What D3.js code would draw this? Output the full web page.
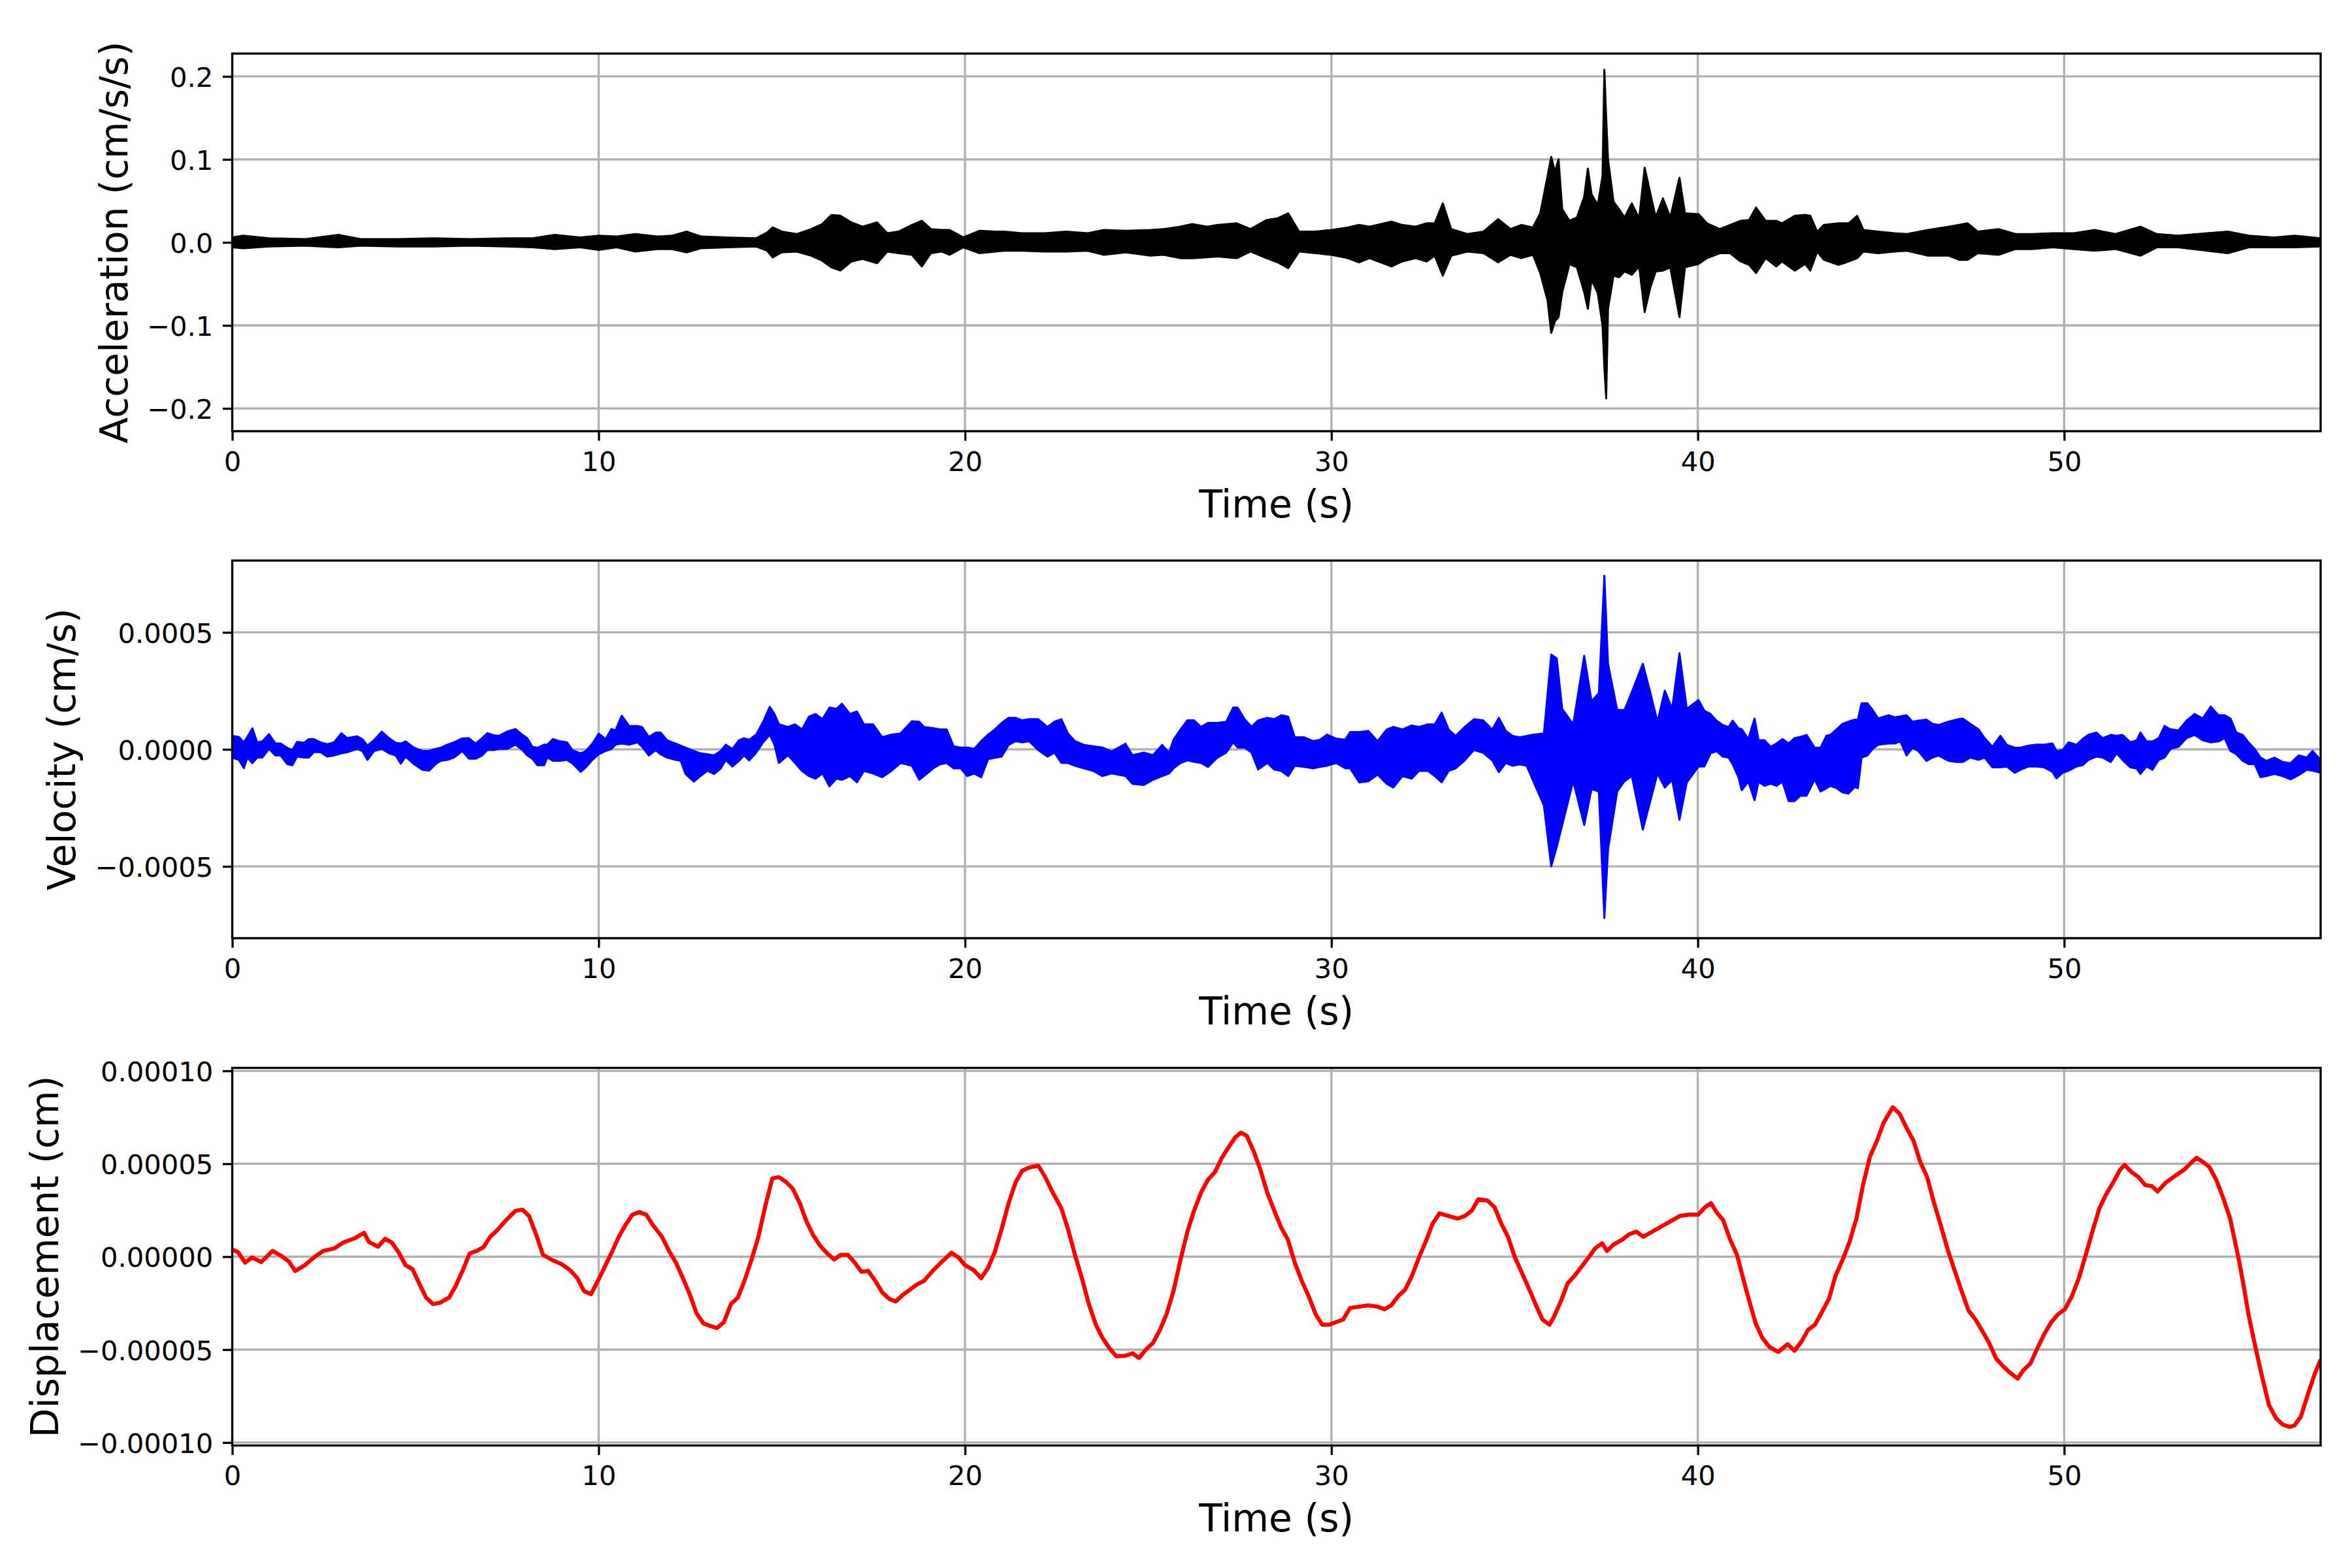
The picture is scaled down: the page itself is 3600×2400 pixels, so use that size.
<!DOCTYPE html>
<html lang="en">
    <head>
        <meta charset="utf-8">
        <title>Acceleration, Velocity, Displacement</title>
        <script src="https://d3js.org/d3.v7.min.js"></script>
        <style type="text/css">
            body { margin: 0; background: #ffffff; }
            svg { display: block; background: #ffffff; }
            text { font-family: "DejaVu Sans", sans-serif; fill: #000000; }
        </style>
    </head>
    <body>
        <svg width="3600" height="2400"></svg>
        <script type="text/javascript">

            // ---- tick values / labels ----
            const xTicks = [0, 10, 20, 30, 40, 50];
            const xTickLabels = ["0", "10", "20", "30", "40", "50"];

            const accTicks = [0.2, 0.1, 0, -0.1, -0.2];
            const accTickLabels = ["0.2", "0.1", "0.0", "\u22120.1", "\u22120.2"];

            const velTicks = [0.0005, 0, -0.0005];
            const velTickLabels = ["0.0005", "0.0000", "\u22120.0005"];

            const dispTicks = [0.0001, 0.00005, 0, -0.00005, -0.0001];
            const dispTickLabels = ["0.00010", "0.00005", "0.00000", "\u22120.00005", "\u22120.00010"];

            // ---- acceleration (cm/s/s): upper / lower envelope of the trace ----
            const accTime = [
                0, 0.3, 1, 2, 2.9, 3.5, 4.5, 5.5, 6.5, 7.5,
                8.2, 8.8, 9.5, 10, 10.5, 11, 11.6, 12, 12.4, 12.8,
                13.5, 14.3, 14.6, 14.75, 15, 15.4, 15.8, 16.1, 16.35, 16.6,
                16.9, 17.2, 17.6, 17.88, 18.18, 18.55, 18.82, 19.07, 19.36, 19.58,
                19.95, 20.4, 20.84, 21.06, 21.57, 22.17, 22.76, 23.35, 23.79, 24.39,
                25.06, 25.42, 25.87, 26.2, 26.61, 26.9, 27.42, 27.79, 28.23, 28.53,
                28.82, 29.12, 29.57, 30, 30.45, 30.75, 31.04, 31.64, 31.93, 32.3,
                32.6, 32.82, 33.04, 33.27, 33.71, 34.15, 34.55, 34.89, 35.18, 35.5,
                35.7, 35.9, 36, 36.1, 36.2, 36.3, 36.5, 36.7, 36.9, 37,
                37.1, 37.27, 37.4, 37.45, 37.5, 37.55, 37.7, 37.85, 38, 38.2,
                38.4, 38.55, 38.7, 38.85, 39.05, 39.25, 39.5, 39.65, 40.02, 40.25,
                40.6, 40.88, 41.17, 41.4, 41.59, 41.85, 42.14, 42.3, 42.65, 42.93,
                43.07, 43.26, 43.44, 43.84, 44.12, 44.35, 44.52, 44.92, 45.37, 45.71,
                46.28, 46.85, 47.13, 47.36, 47.64, 48.21, 48.67, 49.12, 49.69, 50.26,
                50.83, 51.4, 52.08, 52.53, 53.1, 53.9, 54.47, 55.04, 55.72, 56.29,
                57
            ];
            const accUpper = [
                .006, .008, .005, .004, .009, .004, .004, .005, .004, .005,
                .005, .009, .006, .008, .007, .010, .007, .008, .013, .007,
                .006, .005, .012, .018, .013, .010, .016, .022, .033, .032,
                .024, .019, .024, .011, .013, .021, .026, .016, .015, .015,
                .006, .014, .013, .013, .011, .011, .013, .011, .015, .014,
                .015, .016, .019, .022, .019, .021, .023, .016, .027, .029,
                .035, .013, .013, .015, .018, .021, .019, .025, .021, .019,
                .023, .023, .047, .016, .010, .013, .028, .016, .021, .018,
                .035, .080, .103, .085, .100, .040, .026, .030, .055, .089,
                .058, .045, .080, .208, .150, .100, .049, .040, .030, .047,
                .029, .090, .060, .030, .053, .030, .078, .035, .034, .023,
                .016, .021, .026, .027, .042, .026, .026, .023, .032, .033,
                .032, .013, .021, .023, .023, .032, .015, .013, .011, .010,
                .015, .019, .021, .023, .013, .016, .010, .010, .011, .011,
                .015, .010, .019, .010, .008, .011, .013, .008, .006, .008,
                .005
            ];
            const accLower = [
                -.006, -.007, -.005, -.004, -.006, -.004, -.005, -.005, -.004, -.005,
                -.006, -.008, -.006, -.009, -.006, -.011, -.008, -.008, -.012, -.007,
                -.006, -.005, -.010, -.018, -.012, -.011, -.016, -.022, -.030, -.034,
                -.023, -.020, -.025, -.011, -.013, -.015, -.029, -.013, -.011, -.015,
                -.006, -.013, -.011, -.010, -.010, -.011, -.011, -.010, -.015, -.012,
                -.016, -.015, -.019, -.019, -.018, -.017, -.019, -.011, -.019, -.024,
                -.031, -.011, -.013, -.015, -.019, -.024, -.019, -.029, -.023, -.019,
                -.023, -.016, -.040, -.016, -.011, -.013, -.024, -.015, -.019, -.015,
                -.037, -.070, -.109, -.095, -.090, -.060, -.026, -.030, -.060, -.080,
                -.045, -.061, -.100, -.150, -.188, -.080, -.040, -.042, -.035, -.039,
                -.029, -.084, -.055, -.035, -.034, -.030, -.090, -.030, -.026, -.019,
                -.013, -.013, -.023, -.027, -.037, -.019, -.029, -.023, -.034, -.026,
                -.034, -.011, -.021, -.027, -.023, -.019, -.011, -.013, -.011, -.010,
                -.016, -.016, -.021, -.021, -.013, -.015, -.008, -.008, -.006, -.008,
                -.010, -.008, -.016, -.006, -.006, -.010, -.013, -.006, -.006, -.006,
                -.005
            ];

            // ---- velocity (units of 1e-4 cm/s): upper / lower envelope ----
            const velUnit = 1e-4;
            const velTime = [
                0, 0.18, 0.32, 0.41, 0.55, 0.68, 0.82, 1.0, 1.18, 1.32,
                1.5, 1.64, 1.77, 1.96, 2.09, 2.23, 2.41, 2.59, 2.78, 2.98,
                3.14, 3.41, 3.55, 3.69, 3.87, 4.08, 4.28, 4.46, 4.6, 4.73,
                4.96, 5.19, 5.37, 5.55, 5.69, 5.87, 6.05, 6.28, 6.46, 6.64,
                6.82, 6.96, 7.14, 7.28, 7.5, 7.73, 7.92, 8.05, 8.19, 8.33,
                8.51, 8.6, 8.75, 8.96, 9.14, 9.28, 9.51, 9.65, 9.83, 10.0,
                10.19, 10.35, 10.46, 10.63, 10.83, 11.06, 11.19, 11.37, 11.56, 11.69,
                11.87, 12.1, 12.24, 12.37, 12.6, 12.78, 12.97, 13.15, 13.33, 13.47,
                13.65, 13.83, 13.97, 14.11, 14.3, 14.49, 14.67, 14.8, 14.92, 15.17,
                15.36, 15.55, 15.74, 15.92, 16.11, 16.3, 16.49, 16.64, 16.86, 17.05,
                17.24, 17.49, 17.74, 17.99, 18.24, 18.55, 18.75, 18.88, 19.13, 19.31,
                19.5, 19.69, 19.88, 20.06, 20.25, 20.44, 20.63, 20.81, 21.0, 21.19,
                21.38, 21.56, 21.75, 22.0, 22.25, 22.44, 22.63, 22.81, 23.0, 23.25,
                23.5, 23.75, 24.0, 24.38, 24.57, 24.88, 25.13, 25.38, 25.57, 25.69,
                25.88, 26.07, 26.25, 26.44, 26.63, 26.88, 27.13, 27.32, 27.44, 27.63,
                27.82, 28.0, 28.25, 28.44, 28.63, 28.82, 29.0, 29.25, 29.5, 29.69,
                29.88, 30.13, 30.38, 30.51, 30.76, 31.01, 31.26, 31.51, 31.69, 31.94,
                32.19, 32.39, 32.64, 32.82, 33.01, 33.2, 33.39, 33.64, 33.89, 34.14,
                34.39, 34.57, 34.76, 34.95, 35.14, 35.33, 35.51, 35.8, 36.0, 36.15,
                36.3, 36.6, 36.9, 37.1, 37.3, 37.45, 37.55, 37.8, 38.0, 38.2,
                38.5, 38.7, 38.9, 39.1, 39.3, 39.5, 39.7, 40.02, 40.18, 40.35,
                40.51, 40.68, 40.84, 40.95, 41.11, 41.2, 41.38, 41.55, 41.66, 41.82,
                41.99, 42.15, 42.31, 42.48, 42.64, 42.8, 42.97, 43.19, 43.35, 43.51,
                43.62, 43.79, 43.95, 44.11, 44.28, 44.37, 44.47, 44.63, 44.77, 44.93,
                45.21, 45.37, 45.53, 45.7, 45.86, 46.02, 46.24, 46.41, 46.57, 46.84,
                47.06, 47.23, 47.44, 47.66, 47.83, 48.04, 48.26, 48.43, 48.65, 48.81,
                49.03, 49.25, 49.46, 49.68, 49.79, 49.96, 50.12, 50.34, 50.5, 50.66,
                50.88, 51.05, 51.27, 51.43, 51.59, 51.81, 51.98, 52.08, 52.25, 52.41,
                52.58, 52.74, 52.9, 53.12, 53.34, 53.56, 53.78, 54.0, 54.21, 54.38,
                54.54, 54.7, 54.87, 55.03, 55.2, 55.36, 55.52, 55.74, 55.96, 56.18,
                56.4, 56.62, 56.78, 57
            ];
            const velUpper = [
                0.58, 0.53, 0.30, 0.53, 0.90, 0.30, 0.34, 0.65, 0.25, 0.25,
                0.07, -0.03, 0.32, 0.28, 0.44, 0.44, 0.30, 0.22, 0.30, 0.69,
                0.48, 0.56, 0.44, 0.16, 0.39, 0.76, 0.48, 0.28, 0.25, 0.34,
                0.07, -0.07, -0.07, 0.02, 0.07, 0.20, 0.30, 0.47, 0.48, 0.25,
                0.48, 0.69, 0.60, 0.58, 0.76, 0.87, 0.62, 0.48, 0.11, 0.07,
                0.20, 0.20, 0.44, 0.34, 0.30, -0.03, -0.17, -0.07, 0.25, 0.67,
                0.44, 0.87, 0.81, 1.44, 1.00, 1.00, 0.95, 0.53, 0.72, 0.72,
                0.39, 0.25, 0.16, 0.07, -0.07, -0.17, -0.21, -0.26, -0.07, 0.20,
                0.02, 0.39, 0.48, 0.41, 0.63, 1.18, 1.82, 1.51, 1.07, 0.96,
                1.07, 0.85, 1.40, 1.51, 1.29, 1.79, 1.73, 1.95, 1.51, 1.62,
                1.07, 1.07, 0.52, 0.63, 0.68, 1.20, 1.18, 0.96, 0.91, 0.85,
                0.85, 0.13, 0.08, 0.08, 0.02, 0.35, 0.63, 0.85, 1.13, 1.35,
                1.35, 1.24, 1.29, 1.29, 0.96, 1.18, 1.29, 0.68, 0.35, 0.19,
                0.13, 0.08, -0.09, 0.24, -0.25, -0.14, -0.25, 0.19, -0.14, 0.41,
                0.85, 1.24, 1.24, 0.96, 1.13, 1.13, 1.18, 1.79, 1.79, 1.29,
                0.96, 1.24, 1.35, 1.29, 1.46, 1.40, 0.52, 0.52, 0.35, 0.41,
                0.63, 0.46, 0.41, 0.74, 0.74, 0.79, 0.35, 0.85, 0.96, 0.85,
                1.02, 0.96, 1.07, 1.07, 1.57, 0.85, 0.57, 0.96, 1.29, 1.24,
                0.85, 1.35, 0.79, 0.57, 0.52, 0.57, 0.63, 0.68, 4.05, 3.89,
                1.73, 1.07, 4.00, 2.06, 2.40, 7.42, 3.66, 1.68, 1.68, 2.45,
                3.66, 2.45, 1.18, 2.51, 1.73, 4.11, 1.73, 2.11, 1.65, 1.51,
                1.23, 1.04, 0.95, 1.23, 0.90, 0.86, 0.44, 1.32, 0.39, 0.39,
                0.11, 0.25, 0.44, 0.25, 0.48, 0.53, 0.62, 0.07, 0.07, 0.58,
                0.62, 0.86, 1.09, 1.18, 1.27, 1.27, 1.97, 1.97, 1.69, 1.32,
                1.46, 1.37, 1.41, 1.46, 1.18, 1.23, 1.27, 1.09, 1.04, 1.18,
                1.27, 1.32, 1.09, 0.86, 0.48, 0.11, 0.58, 0.20, 0.07, 0.07,
                0.16, 0.20, 0.20, 0.25, -0.07, -0.03, 0.30, 0.20, 0.44, 0.62,
                0.72, 0.48, 0.62, 0.58, 0.62, 0.30, 0.39, 0.72, 0.34, 0.34,
                0.48, 1.00, 0.86, 0.81, 1.23, 1.51, 1.32, 1.83, 1.46, 1.46,
                1.32, 0.72, 0.62, 0.30, 0.02, -0.35, -0.49, -0.35, -0.54, -0.59,
                -0.26, -0.35, -0.07, -0.45
            ];
            const velLower = [
                -0.35, -0.45, -0.80, -0.35, -0.59, -0.35, -0.35, 0.02, -0.26, -0.26,
                -0.63, -0.68, -0.31, -0.35, -0.35, -0.12, -0.12, -0.31, -0.26, -0.17,
                -0.12, 0.02, -0.07, -0.45, -0.07, 0.02, -0.17, -0.26, -0.61, -0.31,
                -0.63, -0.87, -0.91, -0.63, -0.49, -0.45, -0.35, -0.07, -0.40, -0.40,
                -0.26, -0.03, -0.03, 0.02, 0.02, 0.20, -0.03, -0.26, -0.40, -0.68,
                -0.68, -0.35, -0.49, -0.49, -0.45, -0.59, -0.96, -0.77, -0.45, -0.21,
                -0.07, 0.02, 0.20, 0.25, 0.20, 0.30, 0.11, -0.26, -0.03, -0.21,
                -0.35, -0.45, -0.49, -1.05, -1.38, -1.14, -0.91, -1.05, -0.82, -0.45,
                -0.73, -0.49, -0.26, -0.47, -0.14, 0.30, 0.63, 0.19, -0.58, -0.25,
                -0.58, -0.92, -1.14, -1.25, -1.03, -1.58, -1.25, -1.30, -1.14, -1.41,
                -0.92, -1.03, -1.19, -0.92, -0.58, -0.70, -1.30, -1.14, -0.81, -0.64,
                -0.58, -0.81, -0.81, -1.14, -1.03, -1.19, -0.42, -0.36, -0.31, 0.19,
                0.35, 0.30, 0.35, -0.03, -0.31, -0.14, -0.58, -0.58, -0.70, -0.81,
                -0.92, -1.14, -1.03, -1.14, -1.47, -1.52, -1.30, -1.14, -1.03, -0.81,
                -0.58, -0.47, -0.53, -0.58, -0.75, -0.36, -0.14, 0.30, 0.08, 0.08,
                -0.14, -0.86, -0.58, -0.86, -0.92, -1.14, -0.70, -0.75, -0.81, -0.75,
                -0.70, -0.58, -0.81, -0.81, -1.41, -1.36, -1.08, -1.47, -1.63, -1.14,
                -1.25, -0.92, -0.92, -1.14, -1.41, -0.92, -0.81, -0.47, -0.03, -0.14,
                -0.47, -0.97, -0.58, -0.70, -0.64, -0.70, -1.36, -2.40, -5.00, -4.17,
                -3.23, -1.36, -3.23, -1.69, -1.80, -7.21, -4.28, -1.80, -1.36, -1.14,
                -3.43, -2.24, -1.03, -1.63, -1.30, -3.01, -1.41, -0.73, -0.73, -0.17,
                -0.07, -0.31, -0.35, -0.63, -1.19, -1.75, -1.38, -2.17, -1.38, -1.56,
                -1.47, -1.56, -1.38, -2.21, -2.21, -1.98, -1.98, -1.28, -1.80, -1.66,
                -1.56, -1.66, -1.84, -1.89, -1.61, -1.66, -0.35, -0.26, 0.02, 0.20,
                0.25, 0.25, 0.34, -0.26, 0.07, -0.07, -0.49, -0.35, -0.26, -0.49,
                -0.54, -0.54, -0.35, -0.45, -0.35, -0.77, -0.77, -0.73, -1.00, -0.87,
                -0.73, -0.73, -0.77, -0.96, -1.24, -1.00, -0.91, -0.73, -0.68, -0.45,
                -0.31, -0.35, -0.54, -0.17, -0.45, -0.77, -0.82, -1.05, -0.73, -0.87,
                -0.45, -0.35, 0.02, 0.11, 0.48, 0.62, 0.39, 0.30, 0.34, 0.48,
                -0.07, -0.21, -0.49, -0.63, -0.63, -1.19, -1.14, -1.05, -1.14, -1.28,
                -1.10, -0.87, -0.91, -1.00
            ];

            // ---- displacement (units of 1e-5 cm) ----
            const dispUnit = 1e-5;
            const dispTime = [
                0, 0.16, 0.35, 0.54, 0.79, 1.1, 1.35, 1.54, 1.72, 1.98,
                2.23, 2.48, 2.79, 3.04, 3.35, 3.6, 3.73, 3.98, 4.17, 4.35,
                4.54, 4.73, 4.92, 5.1, 5.29, 5.48, 5.67, 5.92, 6.1, 6.29,
                6.48, 6.67, 6.86, 7.04, 7.23, 7.48, 7.73, 7.92, 8.1, 8.29,
                8.48, 8.73, 8.98, 9.23, 9.42, 9.6, 9.79, 9.98, 10.17, 10.36,
                10.55, 10.73, 10.92, 11.11, 11.3, 11.48, 11.73, 11.92, 12.11, 12.3,
                12.48, 12.67, 12.86, 13.05, 13.23, 13.42, 13.61, 13.8, 13.98, 14.17,
                14.36, 14.55, 14.74, 14.92, 15.11, 15.3, 15.49, 15.67, 15.86, 16.05,
                16.24, 16.43, 16.61, 16.8, 16.99, 17.17, 17.36, 17.55, 17.74, 17.93,
                18.11, 18.3, 18.49, 18.68, 18.88, 19.13, 19.38, 19.63, 19.82, 20,
                20.25, 20.44, 20.63, 20.81, 21, 21.19, 21.38, 21.56, 21.75, 22,
                22.19, 22.38, 22.63, 22.81, 23, 23.19, 23.38, 23.57, 23.75, 23.94,
                24.13, 24.38, 24.57, 24.75, 24.94, 25.13, 25.32, 25.51, 25.69, 25.88,
                26.07, 26.25, 26.44, 26.63, 26.82, 27.01, 27.19, 27.38, 27.53, 27.69,
                27.88, 28.06, 28.25, 28.44, 28.63, 28.81, 29, 29.19, 29.38, 29.57,
                29.75, 29.94, 30.13, 30.32, 30.51, 30.76, 31.01, 31.26, 31.45, 31.63,
                31.82, 32.01, 32.2, 32.39, 32.57, 32.76, 32.95, 33.2, 33.45, 33.64,
                33.83, 34.01, 34.26, 34.45, 34.64, 34.82, 35.01, 35.2, 35.39, 35.57,
                35.76, 35.95, 36.07, 36.26, 36.45, 36.64, 36.83, 37.02, 37.2, 37.39,
                37.52, 37.7, 37.95, 38.13, 38.32, 38.51, 38.76, 39.01, 39.26, 39.51,
                39.76, 40.01, 40.2, 40.36, 40.51, 40.69, 40.88, 41.07, 41.2, 41.33,
                41.45, 41.58, 41.76, 41.95, 42.2, 42.45, 42.64, 42.83, 43.01, 43.2,
                43.39, 43.58, 43.76, 43.95, 44.14, 44.33, 44.51, 44.7, 44.89, 45.07,
                45.32, 45.51, 45.7, 45.89, 46.07, 46.26, 46.45, 46.64, 46.82, 47.01,
                47.2, 47.39, 47.58, 47.77, 47.95, 48.14, 48.33, 48.52, 48.73, 48.89,
                49.08, 49.27, 49.46, 49.65, 49.83, 50.02, 50.21, 50.4, 50.59, 50.77,
                50.96, 51.15, 51.34, 51.53, 51.65, 51.84, 52.03, 52.21, 52.4, 52.55,
                52.78, 53.03, 53.28, 53.46, 53.61, 53.78, 53.96, 54.15, 54.34, 54.53,
                54.65, 54.77, 54.9, 55.03, 55.21, 55.4, 55.59, 55.78, 55.96, 56.15,
                56.28, 56.46, 56.65, 56.84, 57
            ];
            const dispValue = [
                0.38, 0.24, -0.32, -0.04, -0.29, 0.31, 0.03, -0.25, -0.77, -0.46,
                -0.04, 0.31, 0.45, 0.77, 1.0, 1.28, 0.79, 0.54, 0.96, 0.77,
                0.24, -0.46, -0.67, -1.43, -2.2, -2.55, -2.48, -2.2, -1.57, -0.74,
                0.17, 0.31, 0.52, 1.07, 1.42, 1.98, 2.47, 2.53, 2.19, 1.21,
                0.1, -0.18, -0.39, -0.74, -1.16, -1.85, -2.02, -1.3, -0.53, 0.24,
                1.07, 1.7, 2.26, 2.4, 2.26, 1.7, 1.07, 0.31, -0.32, -1.16,
                -1.99, -3.04, -3.59, -3.73, -3.84, -3.52, -2.55, -2.2, -1.3, -0.18,
                1.07, 2.74, 4.21, 4.28, 4.03, 3.65, 2.88, 1.91, 1.14, 0.58,
                0.17, -0.15, 0.1, 0.1, -0.32, -0.81, -0.77, -1.3, -1.92, -2.27,
                -2.41, -2.06, -1.78, -1.5, -1.3, -0.74, -0.25, 0.21, -0.04, -0.46,
                -0.74, -1.16, -0.6, 0.24, 1.49, 2.88, 4.0, 4.62, 4.8, 4.9,
                4.28, 3.51, 2.6, 1.49, 0.1, -1.16, -2.55, -3.66, -4.36, -4.92,
                -5.36, -5.33, -5.2, -5.45, -4.99, -4.64, -3.94, -3.04, -1.85, -0.18,
                1.35, 2.47, 3.44, 4.14, 4.55, 5.32, 5.88, 6.43, 6.67, 6.5,
                5.67, 4.69, 3.44, 2.47, 1.56, 0.93, -0.32, -1.3, -2.13, -3.1,
                -3.66, -3.66, -3.52, -3.38, -2.76, -2.69, -2.62, -2.69, -2.83, -2.62,
                -2.13, -1.78, -1.02, -0.04, 0.79, 1.77, 2.33, 2.19, 2.05, 2.19,
                2.47, 3.09, 3.02, 2.67, 1.77, 1.07, -0.04, -0.88, -1.71, -2.55,
                -3.38, -3.66, -3.25, -2.41, -1.43, -1.02, -0.53, -0.04, 0.45, 0.72,
                0.31, 0.65, 0.93, 1.21, 1.35, 1.07, 1.35, 1.63, 1.91, 2.19,
                2.26, 2.26, 2.67, 2.88, 2.4, 1.98, 0.93, 0.1, -0.88, -1.85,
                -2.69, -3.59, -4.36, -4.85, -5.13, -4.71, -5.06, -4.57, -3.94, -3.66,
                -2.97, -2.27, -1.02, -0.18, 0.79, 2.05, 3.86, 5.39, 6.23, 7.2,
                8.04, 7.69, 6.92, 6.23, 5.11, 4.28, 2.88, 1.63, 0.38, -0.74,
                -1.85, -2.9, -3.38, -4.01, -4.64, -5.47, -5.89, -6.24, -6.56, -6.1,
                -5.75, -4.92, -4.15, -3.52, -3.1, -2.83, -2.13, -1.16, 0.1, 1.35,
                2.6, 3.37, 4.0, 4.69, 4.94, 4.55, 4.28, 3.86, 3.79, 3.51,
                4.0, 4.35, 4.69, 5.04, 5.32, 5.11, 4.83, 4.14, 3.16, 2.05,
                0.93, -0.18, -1.57, -3.1, -4.78, -6.45, -7.98, -8.68, -9.03, -9.16,
                -9.09, -8.61, -7.42, -6.3, -5.54
            ];

            // ---- layout (matplotlib 12x8 in @ 300 dpi) ----
            const svg = d3.select("svg");
            const left = 355.5;
            const right = 3552;
            const panelH = 578;
            const tickLen = 14.6;
            const tickPad = 14.6;
            const tickFont = 41.67;
            const labelFont = 58.33;
            const lw = 6.25;
            const thin = 3.33;
            const gridColor = "#b0b0b0";

            const xScale = d3.scaleLinear().domain([0, 57]).range([left, right]);

            const panels = [
                {key: "acc", top: 82, ylim: 0.2275, ticks: accTicks, labels: accTickLabels,
                 title: "Acceleration (cm/s/s)", color: "#000000",
                 time: accTime, upper: accUpper, lower: accLower, unit: 1},
                {key: "vel", top: 858, ylim: 0.000807, ticks: velTicks, labels: velTickLabels,
                 title: "Velocity (cm/s)", color: "#0000ff",
                 time: velTime, upper: velUpper, lower: velLower, unit: velUnit},
                {key: "disp", top: 1634.5, ylim: 0.0001016, ticks: dispTicks, labels: dispTickLabels,
                 title: "Displacement (cm)", color: "#ff0000",
                 time: dispTime, values: dispValue, unit: dispUnit}
            ];

            const defs = svg.append("defs");

            panels.forEach(p => {
                const bottom = p.top + panelH;
                const yScale = d3.scaleLinear()
                                 .domain([-p.ylim, p.ylim])
                                 .range([bottom, p.top]);

                defs.append("clipPath")
                    .attr("id", "clip-" + p.key)
                    .append("rect")
                    .attr("x", left).attr("y", p.top)
                    .attr("width", right - left).attr("height", panelH);

                const g = svg.append("g").attr("class", "panel-" + p.key);

                // grid
                g.append("g").selectAll("line")
                 .data(xTicks)
                 .join("line")
                 .attr("x1", d => xScale(d)).attr("x2", d => xScale(d))
                 .attr("y1", p.top).attr("y2", bottom)
                 .attr("stroke", gridColor).attr("stroke-width", thin);
                g.append("g").selectAll("line")
                 .data(p.ticks)
                 .join("line")
                 .attr("x1", left).attr("x2", right)
                 .attr("y1", d => yScale(d)).attr("y2", d => yScale(d))
                 .attr("stroke", gridColor).attr("stroke-width", thin);

                // trace
                const idx = d3.range(p.time.length);
                const plot = g.append("g").attr("clip-path", "url(#clip-" + p.key + ")");
                if (p.values) {
                    const line = d3.line()
                                   .x(i => xScale(p.time[i]))
                                   .y(i => yScale(p.values[i] * p.unit));
                    plot.append("path")
                        .attr("d", line(idx))
                        .attr("fill", "none")
                        .attr("stroke", p.color)
                        .attr("stroke-width", lw)
                        .attr("stroke-linejoin", "round");
                } else {
                    const area = d3.area()
                                   .x(i => xScale(p.time[i]))
                                   .y0(i => yScale(p.lower[i] * p.unit))
                                   .y1(i => yScale(p.upper[i] * p.unit));
                    plot.append("path")
                        .attr("d", area(idx))
                        .attr("fill", p.color)
                        .attr("stroke", p.color)
                        .attr("stroke-width", 3)
                        .attr("stroke-linejoin", "round");
                }

                // frame
                g.append("rect")
                 .attr("x", left).attr("y", p.top)
                 .attr("width", right - left).attr("height", panelH)
                 .attr("fill", "none").attr("stroke", "#000").attr("stroke-width", thin);

                // x axis
                const xAxis = d3.axisBottom(xScale)
                                .tickValues(xTicks)
                                .tickFormat((d, i) => xTickLabels[i])
                                .tickSize(tickLen)
                                .tickPadding(tickPad);
                const gx = g.append("g")
                            .attr("transform", `translate(0,${bottom})`)
                            .call(xAxis);
                gx.select(".domain").remove();
                gx.selectAll(".tick line").attr("stroke-width", thin);
                gx.selectAll(".tick text")
                  .attr("font-size", tickFont)
                  .attr("font-family", "DejaVu Sans")
                  .attr("dy", "0.76em");

                // y axis
                const yAxis = d3.axisLeft(yScale)
                                .tickValues(p.ticks)
                                .tickFormat((d, i) => p.labels[i])
                                .tickSize(tickLen)
                                .tickPadding(tickPad);
                const gy = g.append("g")
                            .attr("transform", `translate(${left},0)`)
                            .call(yAxis);
                gy.select(".domain").remove();
                gy.selectAll(".tick line").attr("stroke-width", thin);
                gy.selectAll(".tick text")
                  .attr("font-size", tickFont)
                  .attr("font-family", "DejaVu Sans")
                  .attr("dy", "0.37em");

                // axis titles
                let maxW = 0;
                gy.selectAll(".tick text").each(function() {
                    maxW = Math.max(maxW, this.getComputedTextLength());
                });
                const yLabelX = left - tickLen - tickPad - maxW - 16.7 - 13.8;
                g.append("text")
                 .attr("transform", `translate(${yLabelX},${p.top + panelH / 2}) rotate(-90)`)
                 .attr("text-anchor", "middle")
                 .attr("font-size", labelFont)
                 .text(p.title);

                g.append("text")
                 .attr("x", (left + right) / 2)
                 .attr("y", bottom + 131.7)
                 .attr("text-anchor", "middle")
                 .attr("font-size", labelFont)
                 .text("Time (s)");
            });

        </script>
    </body>
</html>
